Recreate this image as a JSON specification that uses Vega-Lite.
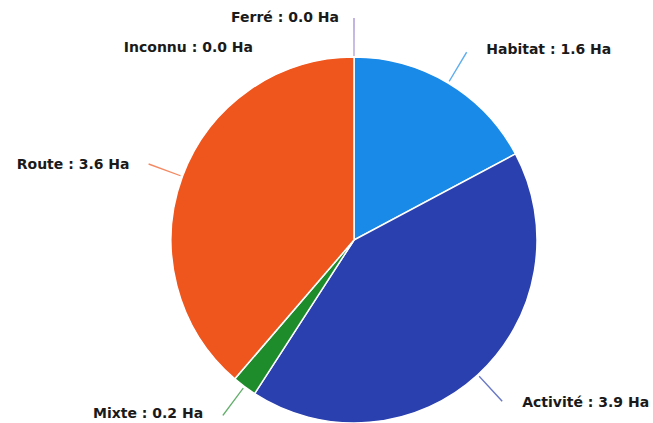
{
  "$schema": "https://vega.github.io/schema/vega-lite/v6.json",
  "width": 598,
  "height": 366,
  "padding": {"left": 55, "top": 57, "right": 0, "bottom": 0},
  "autosize": {"type": "none"},
  "background": "white",
  "config": {"view": {"stroke": null}},
  "data": {
    "values": [
      {"category": "Ferré", "value": 0.0, "order": 0},
      {"category": "Inconnu", "value": 0.0, "order": 1},
      {"category": "Habitat", "value": 1.6, "order": 2},
      {"category": "Activité", "value": 3.9, "order": 3},
      {"category": "Mixte", "value": 0.2, "order": 4},
      {"category": "Route", "value": 3.6, "order": 5}
    ]
  },
  "transform": [
    {"window": [{"op": "sum", "field": "value", "as": "cum"}], "sort": [{"field": "order"}], "frame": [null, 0]},
    {"calculate": "datum.cum - datum.value / 2", "as": "mid"},
    {"calculate": "datum.mid - 0.005", "as": "a0"},
    {"calculate": "datum.mid + 0.005", "as": "a1"},
    {"calculate": "datum.category + ' : ' + format(datum.value, '.1f') + ' Ha'", "as": "label"}
  ],
  "layer": [
    {
      "mark": {"type": "arc", "outerRadius": 183, "stroke": "white", "strokeWidth": 1.5},
      "encoding": {
        "theta": {"field": "value", "type": "quantitative", "stack": true, "scale": {"domain": [0, 9.3]}},
        "order": {"field": "order", "type": "quantitative"},
        "color": {
          "field": "category", "type": "nominal", "legend": null,
          "scale": {
            "domain": ["Ferré", "Inconnu", "Habitat", "Activité", "Mixte", "Route"],
            "range": ["#a48ed4", "#d068c4", "#1a8ae8", "#2a40ae", "#1f8c2c", "#ef561e"]
          }
        }
      }
    },
    {
      "transform": [{"filter": "datum.value > 0"}],
      "mark": {"type": "arc", "radius": 219, "radius2": 185, "opacity": 0.7},
      "encoding": {
        "theta": {"field": "a0", "type": "quantitative", "scale": {"domain": [0, 9.3]}},
        "theta2": {"field": "a1"},
        "color": {"field": "category", "type": "nominal", "legend": null}
      }
    },
    {
      "transform": [{"filter": "datum.category == 'Ferré'"}],
      "mark": {"type": "arc", "radius": 222, "radius2": 184, "opacity": 0.9},
      "encoding": {
        "theta": {"field": "a0", "type": "quantitative", "scale": {"domain": [0, 9.3]}},
        "theta2": {"field": "a1"},
        "color": {"field": "category", "type": "nominal", "legend": null}
      }
    },
    {
      "transform": [{"filter": "datum.value > 0 && datum.mid < 4.65"}],
      "mark": {"type": "text", "radius": 222, "align": "left", "baseline": "middle", "dx": 18, "font": "DejaVu Sans", "fontWeight": "bold", "fontSize": 14, "color": "#1a1a1a"},
      "encoding": {
        "theta": {"field": "mid", "type": "quantitative", "stack": null, "scale": {"domain": [0, 9.3]}},
        "text": {"field": "label"}
      }
    },
    {
      "transform": [{"filter": "datum.value > 0 && datum.mid >= 4.65"}],
      "mark": {"type": "text", "radius": 217, "align": "right", "baseline": "middle", "dx": -21, "font": "DejaVu Sans", "fontWeight": "bold", "fontSize": 14, "color": "#1a1a1a"},
      "encoding": {
        "theta": {"field": "mid", "type": "quantitative", "stack": null, "scale": {"domain": [0, 9.3]}},
        "text": {"field": "label"}
      }
    },
    {
      "transform": [{"filter": "datum.category == 'Ferré'"}],
      "mark": {"type": "text", "radius": 222, "align": "right", "baseline": "middle", "dx": -15, "font": "DejaVu Sans", "fontWeight": "bold", "fontSize": 14, "color": "#1a1a1a"},
      "encoding": {
        "theta": {"field": "mid", "type": "quantitative", "stack": null, "scale": {"domain": [0, 9.3]}},
        "text": {"field": "label"}
      }
    },
    {
      "transform": [{"filter": "datum.category == 'Inconnu'"}],
      "mark": {"type": "text", "radius": 192, "align": "right", "baseline": "middle", "dx": -101, "font": "DejaVu Sans", "fontWeight": "bold", "fontSize": 14, "color": "#1a1a1a"},
      "encoding": {
        "theta": {"field": "mid", "type": "quantitative", "stack": null, "scale": {"domain": [0, 9.3]}},
        "text": {"field": "label"}
      }
    }
  ]
}
